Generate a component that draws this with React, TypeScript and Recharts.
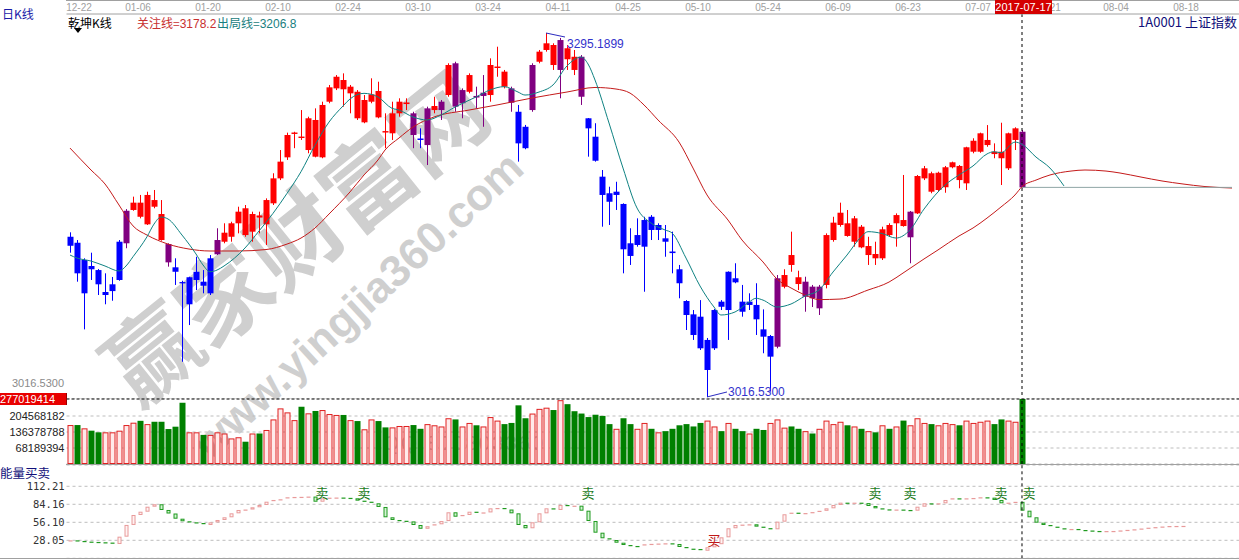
import React from "react";
import {
  ComposedChart,
  Bar,
  Line,
  XAxis,
  YAxis,
  Scatter,
  ReferenceLine,
  CartesianGrid,
} from "recharts";

// ---------- values ----------
const tickIdx = [0, 10, 20, 30, 40, 50, 60, 70, 80, 90, 100, 110, 120, 130, 140, 150, 160];
const tickLabels = ["12-22", "01-06", "01-20", "02-10", "02-24", "03-10", "03-24", "04-11", "04-25",
  "05-10", "05-24", "06-09", "06-23", "07-07", "07-21", "08-04", "08-18"];

const open = [
  3132.3, 3134.6, 3095.9, 3116.8, 3113.7, 3094.6, 3097.6, 3106.1, 3134.2, 3159.7,
  3165.3, 3148.7, 3167.3, 3156.6, 3133.6, 3115.8, 3104.5, 3087.5, 3106.1, 3104.8,
  3095.9, 3125.8, 3135.4, 3139.2, 3149.5, 3161.0, 3143.1, 3155.5, 3148.7, 3164.8,
  3183.9, 3200.0, 3217.9, 3215.9, 3205.6, 3228.6, 3200.0, 3242.6, 3252.8, 3259.2,
  3249.0, 3250.2, 3226.8, 3242.6, 3250.8, 3220.1, 3218.4, 3233.7, 3240.8, 3233.7,
  3214.4, 3209.4, 3236.2, 3236.2, 3247.7, 3272.0, 3241.4, 3250.2, 3247.0, 3247.0,
  3247.7, 3268.4, 3265.6, 3252.8, 3234.9, 3223.4, 3236.2, 3273.2, 3282.2, 3286.0,
  3266.9, 3283.5, 3277.0, 3277.0, 3229.9, 3215.8, 3185.2, 3172.5, 3171.2, 3164.3,
  3134.2, 3132.9, 3131.6, 3154.5, 3144.4, 3138.0, 3127.9, 3114.3, 3090.0, 3079.8,
  3078.0, 3037.2, 3053.8, 3089.5, 3083.1, 3107.4, 3089.5, 3087.0, 3087.0, 3068.3,
  3047.4, 3055.0, 3100.9, 3125.2, 3108.2, 3093.3, 3101.0, 3084.4, 3102.3, 3136.7,
  3148.2, 3149.5, 3135.4, 3146.9, 3125.2, 3126.0, 3122.7, 3148.2, 3149.5, 3152.0,
  3138.8, 3157.1, 3183.9, 3187.8, 3175.0, 3177.1, 3192.4, 3193.4, 3180.1, 3204.3,
  3204.3, 3209.4, 3204.3, 3204.3, 3191.6, 3213.3, 3219.6,
];
const high = [
  3142.6, 3136.7, 3122.7, 3127.0, 3114.5, 3111.2, 3108.4, 3136.7, 3160.4, 3169.9,
  3171.2, 3173.7, 3175.0, 3167.3, 3134.2, 3122.7, 3105.5, 3108.6, 3123.9, 3113.7,
  3125.2, 3145.7, 3149.5, 3150.7, 3162.2, 3163.5, 3158.4, 3158.4, 3168.6, 3187.8,
  3205.6, 3218.9, 3219.6, 3236.2, 3231.1, 3237.5, 3242.6, 3255.4, 3263.0, 3264.3,
  3255.4, 3251.5, 3247.7, 3260.5, 3257.9, 3233.7, 3242.6, 3245.2, 3245.2, 3234.9,
  3222.2, 3238.8, 3246.4, 3243.9, 3272.0, 3273.2, 3252.8, 3264.3, 3254.1, 3263.0,
  3275.8, 3284.7, 3266.9, 3254.1, 3240.1, 3224.8, 3272.0, 3282.2, 3295.19, 3287.3,
  3291.4, 3286.0, 3282.2, 3278.3, 3230.1, 3226.1, 3190.3, 3177.5, 3181.3, 3164.8,
  3145.7, 3153.3, 3154.5, 3155.8, 3149.5, 3148.2, 3143.1, 3117.6, 3090.7, 3083.1,
  3090.7, 3061.7, 3083.9, 3090.7, 3112.7, 3118.9, 3102.3, 3095.9, 3103.6, 3083.6,
  3064.0, 3109.9, 3114.3, 3143.1, 3113.2, 3108.6, 3102.3, 3102.3, 3141.8, 3154.5,
  3165.3, 3159.7, 3155.1, 3148.2, 3139.2, 3135.4, 3146.9, 3149.5, 3157.1, 3186.5,
  3158.9, 3186.5, 3193.4, 3189.0, 3189.0, 3193.4, 3196.7, 3194.1, 3208.1, 3214.6,
  3218.9, 3224.7, 3210.7, 3226.5, 3218.9, 3223.0, 3220.9,
];
const low = [
  3127.0, 3104.8, 3068.3, 3106.1, 3094.6, 3087.5, 3090.2, 3105.5, 3130.4, 3159.1,
  3153.3, 3148.2, 3161.0, 3136.2, 3116.3, 3102.3, 3043.5, 3071.6, 3098.4, 3095.9,
  3094.6, 3125.2, 3134.2, 3135.4, 3141.8, 3139.2, 3135.4, 3141.8, 3132.9, 3163.5,
  3182.6, 3198.0, 3207.0, 3213.3, 3203.1, 3200.0, 3199.3, 3241.4, 3251.5, 3238.8,
  3233.7, 3228.6, 3226.1, 3241.4, 3229.9, 3207.0, 3213.3, 3231.1, 3236.2, 3207.0,
  3207.0, 3194.1, 3233.7, 3228.6, 3246.4, 3234.9, 3229.9, 3249.0, 3237.5, 3223.4,
  3242.6, 3261.7, 3252.8, 3234.9, 3196.7, 3206.2, 3234.9, 3272.0, 3280.9, 3266.9,
  3245.2, 3266.9, 3263.0, 3240.1, 3200.5, 3196.7, 3146.9, 3148.2, 3159.7, 3111.2,
  3117.6, 3131.6, 3097.1, 3136.7, 3136.7, 3123.9, 3111.2, 3092.1, 3067.8, 3060.2,
  3052.5, 3016.53, 3052.5, 3083.1, 3060.2, 3103.6, 3078.0, 3083.1, 3064.0, 3050.0,
  3020.6, 3053.8, 3099.7, 3112.4, 3098.4, 3081.8, 3085.4, 3079.3, 3099.7, 3135.4,
  3146.9, 3139.2, 3131.6, 3130.4, 3117.6, 3117.6, 3121.4, 3139.2, 3131.6, 3146.9,
  3118.9, 3156.6, 3182.6, 3172.5, 3173.7, 3172.9, 3191.6, 3176.3, 3175.0, 3203.1,
  3203.5, 3208.1, 3199.3, 3178.8, 3190.3, 3205.6, 3176.3,
];
const close = [
  3139.2, 3111.2, 3121.4, 3114.3, 3102.8, 3096.9, 3102.8, 3135.4, 3159.1, 3165.3,
  3154.5, 3171.2, 3162.2, 3136.7, 3119.6, 3112.4, 3103.5, 3108.2, 3112.4, 3101.7,
  3122.7, 3136.7, 3142.3, 3149.5, 3158.4, 3140.5, 3156.6, 3153.9, 3167.3, 3183.9,
  3196.7, 3217.1, 3219.0, 3214.8, 3229.9, 3200.5, 3240.1, 3253.6, 3261.7, 3252.1,
  3254.1, 3229.9, 3243.9, 3248.2, 3230.6, 3219.0, 3233.7, 3242.6, 3242.0, 3217.1,
  3213.3, 3237.5, 3239.3, 3242.6, 3270.7, 3238.8, 3251.5, 3263.0, 3245.8, 3249.5,
  3270.7, 3269.5, 3254.1, 3241.8, 3210.7, 3207.0, 3270.7, 3280.9, 3287.3, 3270.7,
  3289.8, 3275.1, 3266.9, 3246.4, 3222.2, 3197.4, 3171.2, 3166.0, 3173.7, 3129.6,
  3124.5, 3140.5, 3152.0, 3144.4, 3148.2, 3135.4, 3126.7, 3103.6, 3079.3, 3064.0,
  3053.8, 3060.2, 3083.1, 3085.6, 3112.4, 3104.3, 3081.8, 3089.5, 3076.0, 3062.7,
  3063.2, 3107.4, 3109.9, 3117.6, 3103.0, 3104.8, 3092.1, 3101.0, 3140.5, 3150.0,
  3157.6, 3139.8, 3153.3, 3131.1, 3132.1, 3122.7, 3144.9, 3140.5, 3155.8, 3147.4,
  3158.4, 3185.7, 3191.6, 3173.7, 3188.2, 3192.4, 3196.2, 3182.6, 3207.7, 3212.7,
  3218.4, 3213.3, 3202.5, 3199.3, 3218.4, 3222.2, 3177.0,
];

// 乾坤K线 colour of each candle: r = red, b = blue, p = purple (runs)
const trendRuns: [string, number][] = [
  ["b", 8], ["p", 1], ["r", 5], ["p", 1], ["b", 6], ["p", 1], ["r", 27], ["p", 1], ["b", 1],
  ["p", 1], ["r", 1], ["p", 1], ["r", 1], ["p", 2], ["r", 1], ["p", 2], ["r", 3], ["p", 1],
  ["b", 2], ["p", 1], ["r", 3], ["p", 1], ["r", 2], ["p", 1], ["b", 27], ["p", 1], ["r", 3],
  ["p", 3], ["r", 12], ["p", 1], ["r", 15], ["p", 1],
];

// volume, millions
const volumeM = [
  166, 166, 152, 142, 135, 135, 135, 142, 166, 176,
  184, 170, 180, 180, 149, 159, 261, 135, 135, 124,
  124, 135, 130, 109, 114, 95, 130, 130, 145, 190,
  237, 220, 187, 244, 216, 226, 230, 213, 209, 209,
  187, 183, 148, 190, 183, 156, 156, 162, 162, 166,
  150, 170, 165, 160, 195, 190, 160, 175, 165, 160,
  200, 185, 170, 175, 250, 195, 215, 235, 240, 230,
  272, 255, 225, 215, 200, 210, 205, 170, 150, 195,
  170, 150, 175, 150, 135, 140, 150, 165, 170, 160,
  175, 185, 160, 140, 175, 150, 140, 130, 150, 145,
  175, 190, 155, 160, 150, 140, 130, 150, 185, 170,
  180, 165, 160, 150, 140, 135, 165, 150, 160, 185,
  165, 195, 175, 170, 165, 175, 170, 165, 185, 175,
  180, 185, 170, 190, 185, 180, 277.019414,
];
const volTicks = [68189394, 136378788, 204568182];
const volMax = 277019414;

// 关注线 (red) and 出局线 (teal): [bar index, price]
const guanzhuLine: [number, number][] = [
  [0, 3207.1], [3, 3190.3], [5, 3179.6], [7, 3163.5], [9, 3147.5], [11, 3140.5], [14, 3133.6],
  [17, 3129.8], [20, 3128.3], [24, 3128.3], [28, 3129.4], [31, 3133.6], [33, 3138.2], [35, 3145.9],
  [37, 3156.6], [40, 3173.5], [42, 3186.5], [44, 3198.0], [45, 3205.6], [47, 3214.8], [49, 3223.2],
  [52, 3230.9], [57, 3236.2], [61, 3240.1], [66, 3245.4], [71, 3250.0], [75, 3253.5], [78, 3252.3],
  [80, 3249.2], [82, 3240.1], [84, 3228.6], [87, 3211.7], [89, 3191.8], [91, 3171.2], [94, 3152.0],
  [96, 3136.7], [99, 3119.9], [101, 3106.8], [103, 3100.0], [105, 3094.6], [107, 3091.1],
  [110, 3091.5], [114, 3098.4], [117, 3104.5], [119, 3111.4], [122, 3122.2], [124, 3129.1],
  [127, 3139.8], [129, 3145.9], [131, 3153.5], [133, 3162.0], [135, 3171.2], [136, 3177.5],
  [138, 3182.6], [140, 3186.5], [143, 3189.5], [145, 3190.3], [148, 3189.5], [150, 3188.0],
  [153, 3184.9], [156, 3181.9], [159, 3179.6], [162, 3177.7], [166, 3176.5],
];
const chujuLine: [number, number][] = [
  [0, 3125.2], [1, 3122.9], [3, 3120.6], [5, 3116.8], [7, 3113.0], [8, 3116.8], [9, 3123.9],
  [11, 3139.2], [12, 3148.9], [13, 3154.3], [14, 3152.8], [16, 3140.5], [18, 3126.0], [19, 3117.6],
  [20, 3112.4], [21, 3113.7], [22, 3116.8], [25, 3130.6], [27, 3143.6], [29, 3157.1], [31, 3172.4],
  [33, 3189.0], [35, 3209.4], [37, 3227.0], [39, 3239.3], [40, 3244.7], [42, 3249.0], [44, 3246.2],
  [46, 3237.5], [47, 3236.2], [49, 3230.9], [51, 3228.6], [53, 3232.4], [55, 3238.5], [58, 3246.2],
  [60, 3251.6], [62, 3254.1], [64, 3250.0], [65, 3247.7], [67, 3250.0], [69, 3255.4], [71, 3270.0],
  [73, 3276.8], [74, 3271.5], [75, 3259.2], [77, 3226.3], [79, 3191.8], [81, 3161.2], [83, 3149.7],
  [85, 3144.4], [86, 3142.1], [88, 3122.9], [90, 3101.5], [92, 3085.4], [93, 3079.3], [95, 3081.6],
  [97, 3089.2], [98, 3092.1], [99, 3090.7], [101, 3085.4], [103, 3087.7], [105, 3093.8],
  [107, 3098.4], [109, 3112.2], [111, 3125.2], [113, 3139.0], [114, 3143.1], [116, 3141.7],
  [118, 3138.2], [120, 3144.4], [122, 3160.4], [125, 3178.8], [127, 3186.5], [129, 3193.4],
  [131, 3202.6], [132, 3204.3], [133, 3203.5], [135, 3211.7], [136, 3210.0], [138, 3200.2],
  [140, 3191.8], [142, 3178.1],
];
const lastCloseLine: [number, number][] = [[136, 3177.0], [166, 3177.0]];

const hiIdx = 68;
const hiValue = 3295.1899;
const loIdx = 91;
const loValue = 3016.53;

// 能量买卖 indicator
const energy = [
  28, 27, 26, 25.5, 25, 24.5, 22.3, 33.7, 52, 67.5,
  72.6, 80.4, 84.2, 75.3, 69.8, 61.7, 57.7, 56.1, 55, 51.9,
  56, 59.7, 63.9, 70.1, 75.3, 76, 79.5, 83.1, 88.2, 90.9,
  92, 95.1, 95.6, 95.8, 96.2, 88.2, 93.5, 94.5, 94.7, 94.2,
  93.5, 89.8, 88.2, 85.7, 80, 63.9, 59.7, 58.5, 57.5, 51.9,
  46, 50, 53, 58, 71.7, 64.8, 67.5, 72.6, 71.1, 71.5,
  77.9, 78.4, 76, 70.1, 51.9, 46.8, 56.1, 70.1, 77.9, 75.3,
  83.1, 81.5, 82, 74.2, 58.1, 39.9, 31.2, 28.5, 24.3, 20.7,
  19.2, 19, 21.8, 22.5, 23, 23.4, 22.3, 17.6, 15, 14.5,
  11.8, 17.1, 22, 32.7, 46.8, 51.9, 52.5, 53, 49.3, 47,
  45.2, 57.1, 68.6, 71.1, 70.1, 70.5, 72, 74, 77.9, 83.1,
  86.7, 85.7, 86.7, 86, 81.5, 77.9, 76.3, 75.3, 76, 75.3,
  74.2, 80.4, 85.7, 84.2, 85.7, 90.9, 93.5, 90.9, 93.5, 94,
  95.1, 94.5, 90.9, 85.7, 86.7, 88, 74.2, 63.9, 55.5, 51.9,
  49.3, 46.8, 45.2, 45.7, 44.1, 43.3, 42.6, 42.4, 42.5, 42.6,
  43.4, 44.3, 45.2, 46.4, 47.7, 48.6, 49.5, 50.3, 50.4, 50.5,
];
const energyTicks = [28.05, 56.1, 84.16, 112.21];
const sellIdx = [36, 42, 74, 115, 120, 133, 137];
const buyIdx = [92];
const SELL_LEVEL = 101;
const BUY_LEVEL = 28.5;

// ---------- layout ----------
const SLOTS = 168;
const AXIS_W = 66.5;
const CHART_W = AXIS_W + SLOTS * 7;
const CURSOR = 136;
const FONT_CJK = '"Noto Sans CJK SC", sans-serif';
const FONT_NUM = '"Liberation Sans", Arial, sans-serif';
const COLORS: Record<string, string> = { r: "#ff0000", b: "#0000ff", p: "#800080" };

const trend: string[] = [];
trendRuns.forEach(([c, n]) => {
  for (let k = 0; k < n; k++) trend.push(c);
});
const toMap = (pts: [number, number][]) => new Map(pts.map(([i, v]) => [i, v]));
const gzMap = toMap(guanzhuLine);
const cjMap = toMap(chujuLine);
const lcMap = toMap(lastCloseLine);

const rows = Array.from({ length: SLOTS }, (_, i) => {
  const has = i < open.length;
  const e = i < energy.length ? energy[i] : undefined;
  const ePrev = i > 0 && i - 1 < energy.length ? energy[i - 1] : e;
  return {
    idx: i,
    o: has ? open[i] : undefined,
    h: has ? high[i] : undefined,
    l: has ? low[i] : undefined,
    c: has ? close[i] : undefined,
    range: has ? [low[i], high[i]] : undefined,
    col: has ? trend[i] : undefined,
    vol: has ? volumeM[i] * 1e6 : undefined,
    up: has ? close[i] >= open[i] : undefined,
    guanzhu: gzMap.get(i),
    chuju: cjMap.get(i),
    lastClose: lcMap.get(i),
    hiMark: i === hiIdx ? hiValue : undefined,
    loMark: i === loIdx ? loValue : undefined,
    eRange: e !== undefined && ePrev !== undefined ? [Math.min(e, ePrev), Math.max(e, ePrev)] : undefined,
    eUp: e !== undefined && ePrev !== undefined ? e >= ePrev : undefined,
    sell: sellIdx.includes(i) ? SELL_LEVEL : undefined,
    buy: buyIdx.includes(i) ? BUY_LEVEL : undefined,
  };
});

// ---------- shapes ----------
const Candle = (p: any) => {
  const { x, y, width, height, payload } = p;
  if (!payload || payload.o == null || !Number.isFinite(y)) return <g />;
  const top = Math.min(y, y + height);
  const h = Math.abs(height);
  const k = h / (payload.h - payload.l || 1);
  const yO = top + (payload.h - payload.o) * k;
  const yC = top + (payload.h - payload.c) * k;
  const bt = Math.min(yO, yC);
  const bh = Math.max(1, Math.abs(yO - yC));
  const cx = Math.floor(x + width / 2) + 0.5;
  const col = COLORS[payload.col];
  return (
    <g>
      <line x1={cx} x2={cx} y1={top} y2={top + h} stroke={col} strokeWidth={1} />
      <rect x={x} y={bt} width={width} height={bh} fill={col} />
    </g>
  );
};

const VolBar = (p: any) => {
  const { x, y, width, height, payload } = p;
  if (!payload || payload.vol == null || !Number.isFinite(y)) return <g />;
  if (payload.up)
    return (
      <rect x={x + 0.5} y={y + 0.5} width={width - 1} height={Math.max(0, height - 1)}
        fill="#ffeaea" stroke="#e02020" strokeWidth={1} />
    );
  return <rect x={x} y={y} width={width} height={height} fill="#008000" />;
};

const EnergyBox = (p: any) => {
  const { x, y, width, height, payload } = p;
  if (!payload || payload.eRange == null || !Number.isFinite(y)) return <g />;
  const top = Math.min(y, y + height);
  const h = Math.abs(height);
  const stroke = payload.eUp ? "#e89a9a" : "#1f9a1f";
  const fill = payload.eUp ? "#fff3f3" : "#d4f4d4";
  if (h < 2) return <rect x={x} y={top} width={width} height={1.2} fill={stroke} />;
  return (
    <rect x={x + 0.5} y={top + 0.5} width={width - 1} height={h - 1}
      fill={fill} stroke={stroke} strokeWidth={1} />
  );
};

const SignalText = (text: string, color: string, dy: number) => (p: any) => {
  if (!Number.isFinite(p.cx) || !Number.isFinite(p.cy)) return <g />;
  return (
    <text x={p.cx} y={p.cy + dy} textAnchor="middle" fontSize={13} fill={color} fontFamily={FONT_CJK}>
      {text}
    </text>
  );
};

const HiMark = (p: any) => {
  if (!Number.isFinite(p.cx) || !Number.isFinite(p.cy)) return <g />;
  const { cx, cy } = p;
  return (
    <g>
      <line x1={cx} y1={cy} x2={cx + 19} y2={cy + 4} stroke="#2b2bbf" strokeWidth={1} />
      <text x={cx + 21} y={cy + 15} fontSize={12} fill="#3333cc" fontFamily={FONT_NUM}>
        {Number(p.payload.hiMark).toFixed(4)}
      </text>
    </g>
  );
};

const LoMark = (p: any) => {
  if (!Number.isFinite(p.cx) || !Number.isFinite(p.cy)) return <g />;
  const { cx, cy } = p;
  return (
    <g>
      <line x1={cx} y1={cy} x2={cx + 20} y2={cy - 5} stroke="#2b2bbf" strokeWidth={1} />
      <text x={cx + 21} y={cy - 1} fontSize={12} fill="#3333cc" fontFamily={FONT_NUM}>
        {Number(p.payload.loMark).toFixed(4)}
      </text>
    </g>
  );
};

const DateTick = (p: any) => {
  const k = tickIdx.indexOf(Number(p.payload.value));
  if (k < 0) return <g />;
  const dx = k === 0 ? 9 : k >= 15 ? -4 : -2;
  return (
    <text x={p.x + dx} y={11} textAnchor="middle" fontSize={10} fill="#a0a0a0"
      fontFamily='"Liberation Sans Narrow", "Liberation Sans", sans-serif'>
      {tickLabels[k]}
    </text>
  );
};

const PriceTick = (p: any) => (
  <text x={64} y={p.y - 2} textAnchor="end" fontSize={11} fill="#8a8a8a" fontFamily={FONT_NUM}>
    {Number(p.payload.value).toFixed(4)}
  </text>
);

const margin0 = { top: 0, right: 0, bottom: 0, left: 0 };
const cursorLine = <ReferenceLine x={CURSOR} stroke="#000" strokeDasharray="3 3" />;

const abs = (s: React.CSSProperties): React.CSSProperties => ({
  position: "absolute",
  whiteSpace: "nowrap",
  lineHeight: 1,
  ...s,
});

export default function App() {
  return (
    <div
      style={{
        position: "absolute", left: 0, top: 0, width: 1239, height: 560,
        background: "#fff", overflow: "hidden", fontFamily: FONT_CJK,
      }}
    >
      {/* watermark, behind the charts */}
      <div style={abs({
        left: 62, top: 188, width: 460, height: 92, fontSize: 92, fontWeight: 700,
        color: "#cfcfcf", textAlign: "center", transform: "rotate(-38.8deg)",
      })}>赢家财富网</div>
      <div style={abs({
        left: 138, top: 283, width: 440, height: 44, fontSize: 44, fontWeight: 700,
        color: "#cfcfcf", textAlign: "center", fontFamily: FONT_NUM, transform: "rotate(-42.5deg)",
      })}>www.yingjia360.com</div>
      <div style={abs({
        left: 383, top: 432, fontSize: 21, letterSpacing: 1.5, color: "#cacaca", fontFamily: FONT_NUM,
      })}>QQ:800803360</div>

      {/* price panel */}
      <div style={{ position: "absolute", left: 0, top: 0 }}>
        <ComposedChart width={CHART_W} height={398} data={rows} margin={margin0}>
          <XAxis dataKey="idx" orientation="top" height={14} interval={0} tick={DateTick}
            tickLine={false} axisLine={{ stroke: "#a0a0a0" }} />
          <YAxis domain={[3015.75, 3309.74]} allowDataOverflow width={AXIS_W} ticks={[loValue]}
            tick={PriceTick} axisLine={false} tickLine={false} />
          <Bar dataKey="range" barSize={6} shape={Candle} isAnimationActive={false} />
          <Line dataKey="guanzhu" type="monotone" stroke="#c41a1a" strokeWidth={1} dot={false}
            activeDot={false} connectNulls isAnimationActive={false} />
          <Line dataKey="chuju" type="monotone" stroke="#0f8282" strokeWidth={1} dot={false}
            activeDot={false} connectNulls isAnimationActive={false} />
          <Line dataKey="lastClose" type="linear" stroke="#8fa6a6" strokeWidth={1} dot={false}
            activeDot={false} connectNulls isAnimationActive={false} />
          <Scatter dataKey="hiMark" shape={HiMark} isAnimationActive={false} />
          <Scatter dataKey="loMark" shape={LoMark} isAnimationActive={false} />
          {cursorLine}
        </ComposedChart>
      </div>

      {/* volume panel */}
      <div style={{ position: "absolute", left: 0, top: 398 }}>
        <ComposedChart width={CHART_W} height={66} data={rows} margin={margin0}>
          <CartesianGrid vertical={false} stroke="#bdbdbd" strokeDasharray="3 3" />
          <XAxis dataKey="idx" hide />
          <YAxis domain={[0, (volMax * 66) / 65]} allowDataOverflow width={AXIS_W} ticks={volTicks}
            interval={0} axisLine={false} tickLine={false} tickSize={0} tickMargin={2}
            tick={{ fontSize: 11, fill: "#222", fontFamily: FONT_NUM }} />
          <Bar dataKey="vol" barSize={6} shape={VolBar} isAnimationActive={false} />
          <ReferenceLine y={volMax} stroke="#000" strokeDasharray="3 2" />
          {cursorLine}
        </ComposedChart>
      </div>

      {/* 能量买卖 panel */}
      <div style={{ position: "absolute", left: 0, top: 465 }}>
        <ComposedChart width={CHART_W} height={93.3} data={rows} margin={margin0}>
          <CartesianGrid vertical={false} stroke="#bdbdbd" strokeDasharray="3 3" />
          <XAxis dataKey="idx" hide />
          <YAxis domain={[0, 145.4]} allowDataOverflow width={AXIS_W} ticks={energyTicks} interval={0}
            axisLine={false} tickLine={false} tickSize={0} tickMargin={2}
            tickFormatter={(v: number) => v.toFixed(2)}
            tick={{ fontSize: 10.5, fill: "#333", fontFamily: '"DejaVu Sans Mono", monospace' }} />
          <Bar dataKey="eRange" barSize={4} shape={EnergyBox} isAnimationActive={false} />
          <Scatter dataKey="sell" shape={SignalText("卖", "#1a7a1a", 5)} isAnimationActive={false} />
          <Scatter dataKey="buy" shape={SignalText("买", "#c01818", 5)} isAnimationActive={false} />
          {cursorLine}
        </ComposedChart>
      </div>

      {/* frame lines */}
      <div style={abs({ left: 66, top: 0, width: 1173, height: 1, background: "#a0a0a0" })} />
      <div style={abs({ left: 66, top: 464, width: 1173, height: 1, background: "#a0a0a0" })} />
      <div style={abs({ left: 0, top: 558, width: 1239, height: 1, background: "#a0a0a0" })} />

      {/* texts */}
      <div style={abs({ left: 2, top: 8, fontSize: 12, color: "#1a1aa8" })}>日K线</div>
      <div style={abs({ left: 68, top: 17, fontSize: 12, color: "#000" })}>乾坤K线</div>
      <svg style={{ position: "absolute", left: 74, top: 28 }} width={9} height={5}>
        <polygon points="0,0 8,0 4,5" fill="#000" />
      </svg>
      <div style={abs({ left: 137, top: 17, fontSize: 12, color: "#c83030" })}>
        关注线=<span style={{ fontFamily: FONT_NUM }}>3178.2</span>
      </div>
      <div style={abs({ left: 217, top: 17, fontSize: 12, color: "#1a8080" })}>
        出局线=<span style={{ fontFamily: FONT_NUM }}>3206.8</span>
      </div>
      <div style={abs({ right: 2, top: 15, fontSize: 13, color: "#10107a" })}>1A0001 上证指数</div>
      <div style={abs({
        left: 995, top: 0, width: 57, height: 14, background: "#d40000", color: "#fff",
        fontSize: 11, lineHeight: "14px", textAlign: "center", fontFamily: FONT_NUM,
      })}>2017-07-17</div>
      <div style={abs({
        left: 0, top: 393, width: 67, height: 12, background: "#e80000", color: "#fff",
        fontSize: 11, lineHeight: "12px", fontFamily: FONT_NUM, borderRight: "1px solid #900",
        boxSizing: "border-box",
      })}>277019414</div>
      <div style={abs({ left: 0, top: 467, fontSize: 12.5, color: "#10107a" })}>能量买卖</div>
    </div>
  );
}
